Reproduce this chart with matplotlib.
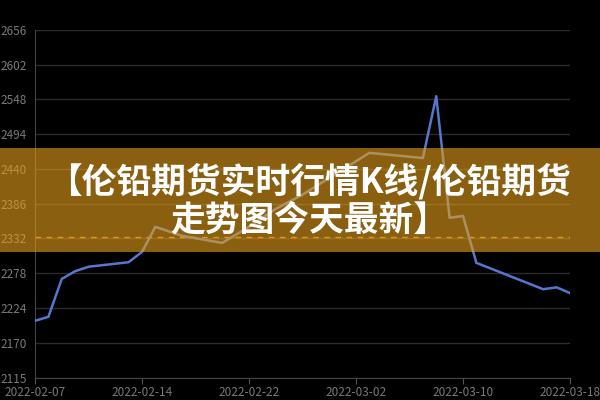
import matplotlib
matplotlib.use('Agg')
import matplotlib.pyplot as plt
from matplotlib.patches import Rectangle

plt.rcParams['font.family'] = ['Noto Sans CJK SC', 'DejaVu Sans']

# data (x = category index, label every 8th)
day_idx = [0, 1, 2, 3, 4, 7, 8, 9, 11, 14, 16, 18, 20, 25, 29, 30, 31, 32, 33, 38, 39, 40]
price = [2204, 2210, 2269, 2281, 2288, 2295, 2311, 2350, 2336, 2325, 2350, 2378, 2400,
         2465, 2457, 2553, 2364, 2367, 2294, 2253, 2256, 2247]
x_tick_idx = [0, 8, 16, 24, 32, 40]
x_labels = ['2022-02-07', '2022-02-14', '2022-02-22', '2022-03-02', '2022-03-10', '2022-03-18']
y_ticks = [2115, 2170, 2224, 2278, 2332, 2386, 2440, 2494, 2548, 2602, 2656]
avg_line = 2334
title = '【伦铅期货实时行情K线/伦铅期货\n走势图今天最新】'

fig = plt.figure(figsize=(6, 4), dpi=100, facecolor='black')
ax = fig.add_axes([35/600, 22/400, 535/600, 348/400], facecolor='black')

for v in y_ticks:
    ax.axhline(v, color='#2b2b2b', lw=1, zorder=1)
ax.axhline(avg_line, color='#d9822b', lw=1, ls=(0, (4, 4)), zorder=2)
ax.plot(day_idx, price, color='#5577cc', lw=1.8, zorder=3)

ax.set_xlim(0, 40)
ax.set_ylim(2115, 2656)
ax.set_yticks(y_ticks)
ax.set_yticklabels([str(v) for v in y_ticks])
ax.set_xticks(x_tick_idx)
ax.set_xticklabels(x_labels)
ax.tick_params(axis='y', length=0, colors='#7a7a7a', labelsize=8.5, pad=6)
ax.tick_params(axis='x', length=4, color='#555555', labelcolor='#7a7a7a', labelsize=8.5, pad=2)
for s in ['top', 'right']:
    ax.spines[s].set_visible(False)
ax.spines['left'].set_color('#444444')
ax.spines['bottom'].set_color('#444444')

# banner over the whole width
fig.patches.append(Rectangle((0, 148/400), 1, 104/400, transform=fig.transFigure,
                             facecolor='#e8a21b', alpha=0.6, edgecolor='none', zorder=5))
fig.text(0.515, 200/400, title, ha='center', va='center', multialignment='center',
         color='white', fontsize=25, fontweight='bold', linespacing=1.1, zorder=6)

fig.savefig('out.png', dpi=100, facecolor='black')
